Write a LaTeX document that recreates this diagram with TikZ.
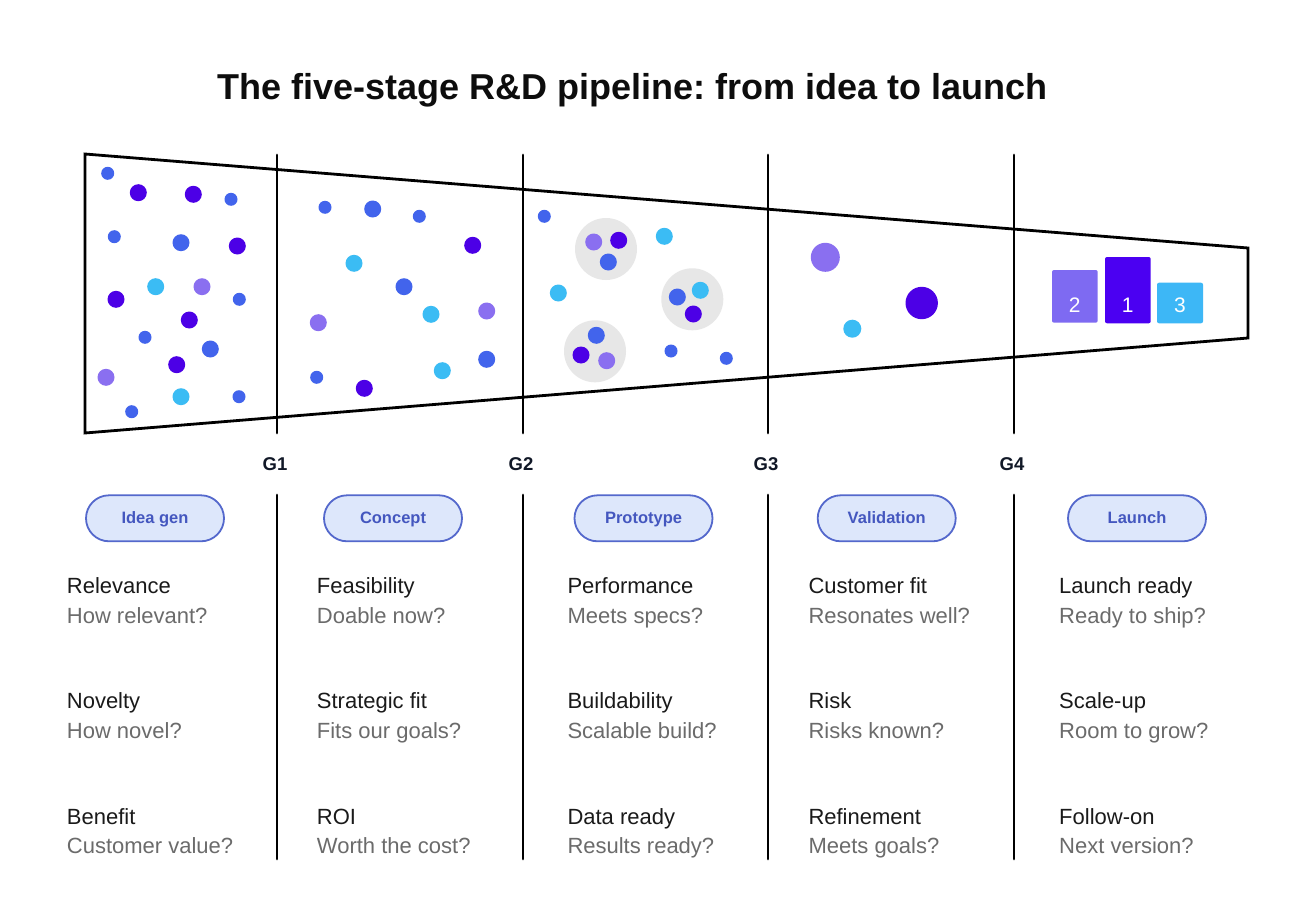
\documentclass[tikz,border=0pt]{standalone}
\usepackage{fontspec}
\setmainfont{Liberation Sans}
\usepackage{tikz}
\usetikzlibrary{positioning}
\frenchspacing
\definecolor{0d0d0d}{HTML}{0D0D0D}
\definecolor{111827}{HTML}{111827}
\definecolor{1a1a1a}{HTML}{1A1A1A}
\definecolor{6b6b6b}{HTML}{6B6B6B}
\definecolor{dde7fb}{HTML}{DDE7FB}
\definecolor{5468cc}{HTML}{5468CC}
\definecolor{4457bf}{HTML}{4457BF}
\definecolor{4264ec}{HTML}{4264EC}
\definecolor{4c00e6}{HTML}{4C00E6}
\definecolor{3bbcf4}{HTML}{3BBCF4}
\definecolor{8a6ff0}{HTML}{8A6FF0}
\definecolor{e7e7e7}{HTML}{E7E7E7}
\definecolor{7e6af2}{HTML}{7E6AF2}
\definecolor{4b00f2}{HTML}{4B00F2}
\definecolor{3db7f6}{HTML}{3DB7F6}

\begin{document}
\begin{tikzpicture}[line cap=round,line join=round,x=1pt,y=-1pt,
  gate/.style={line width=2.8pt,color=black},
  pill/.style={draw=5468cc,line width=1.8pt,fill=dde7fb,rounded corners=23pt,minimum width=138pt,minimum height=46pt,inner sep=0pt,text height=11.8pt,text depth=0.6pt,text=4457bf,font=\fontsize{16.5}{19}\selectfont\bfseries},
  head/.style={anchor=base west,inner sep=0pt,text=1a1a1a,font=\fontsize{22}{26}\selectfont},
  ask/.style={anchor=base west,inner sep=0pt,text=6b6b6b,font=\fontsize{22}{26}\selectfont},
  glabel/.style={anchor=base,inner sep=0pt,text=111827,font=\fontsize{18.5}{21}\selectfont\bfseries},
  rank/.style={anchor=base,inner sep=0pt,text=white,font=\fontsize{21}{24}\selectfont}]
\useasboundingbox (0,0) rectangle (1293,923);
\fill[color=white] (0,0) rectangle (1293,923);
\node (title) at (632.3,100) [anchor=base,inner sep=0pt,text=0d0d0d,font=\fontsize{36}{42}\selectfont\bfseries] {The five-stage R\&D pipeline: from idea to launch};
\draw [line width=2.8pt,line join=miter] (85,154)-- (1248,248)-- (1248,338)-- (85,433)-- cycle;
\draw [gate] (277,155)-- (277,433);
\draw [gate] (523,155)-- (523,433);
\draw [gate] (768,155)-- (768,433);
\draw [gate] (1014,155)-- (1014,433);
\draw [gate] (277,495)-- (277,859);
\draw [gate] (523,495)-- (523,859);
\draw [gate] (768,495)-- (768,859);
\draw [gate] (1014,495)-- (1014,859);
\node[glabel] (g1) at (275,470.7) {G1};
\node[glabel] (g2) at (521,470.7) {G2};
\node[glabel] (g3) at (766,470.7) {G3};
\node[glabel] (g4) at (1012,470.7) {G4};
% stage 1
\fill [color=4264ec] (107.7,173.3) circle (6.5pt);
\fill [color=4c00e6] (138.3,192.7) circle (8.5pt);
\fill [color=4c00e6] (193.3,194.3) circle (8.5pt);
\fill [color=4264ec] (231,199.3) circle (6.5pt);
\fill [color=4264ec] (114.3,236.7) circle (6.5pt);
\fill [color=4264ec] (181,242.7) circle (8.5pt);
\fill [color=4c00e6] (237.3,246) circle (8.5pt);
\fill [color=3bbcf4] (155.7,286.7) circle (8.5pt);
\fill [color=8a6ff0] (202,286.7) circle (8.5pt);
\fill [color=4c00e6] (116,299.3) circle (8.5pt);
\fill [color=4264ec] (239.3,299.3) circle (6.5pt);
\fill [color=4c00e6] (189.3,320) circle (8.5pt);
\fill [color=4264ec] (145,337.3) circle (6.5pt);
\fill [color=4264ec] (210.3,349) circle (8.5pt);
\fill [color=4c00e6] (176.7,364.7) circle (8.5pt);
\fill [color=8a6ff0] (106,377.3) circle (8.5pt);
\fill [color=3bbcf4] (181,396.7) circle (8.5pt);
\fill [color=4264ec] (239,396.7) circle (6.5pt);
\fill [color=4264ec] (131.7,411.7) circle (6.5pt);
% stage 2
\fill [color=4264ec] (325,207.3) circle (6.5pt);
\fill [color=4264ec] (372.7,209) circle (8.5pt);
\fill [color=4264ec] (419.3,216.3) circle (6.5pt);
\fill [color=4c00e6] (472.7,245.3) circle (8.5pt);
\fill [color=3bbcf4] (354,263.3) circle (8.5pt);
\fill [color=4264ec] (404,286.7) circle (8.5pt);
\fill [color=8a6ff0] (318.3,322.7) circle (8.5pt);
\fill [color=3bbcf4] (431,314.3) circle (8.5pt);
\fill [color=8a6ff0] (486.7,311) circle (8.5pt);
\fill [color=4264ec] (316.7,377.3) circle (6.5pt);
\fill [color=4c00e6] (364.3,388.3) circle (8.5pt);
\fill [color=3bbcf4] (442.3,370.7) circle (8.5pt);
\fill [color=4264ec] (486.7,359.3) circle (8.5pt);
% stage 3
\fill [color=e7e7e7] (606,249) circle (31pt);
\fill [color=e7e7e7] (692.3,299.3) circle (31pt);
\fill [color=e7e7e7] (595,351.3) circle (31pt);
\fill [color=4264ec] (544.3,216.3) circle (6.5pt);
\fill [color=8a6ff0] (593.7,242) circle (8.5pt);
\fill [color=4c00e6] (618.7,240.3) circle (8.5pt);
\fill [color=4264ec] (608.3,262) circle (8.5pt);
\fill [color=3bbcf4] (664.3,236.3) circle (8.5pt);
\fill [color=3bbcf4] (558.3,293) circle (8.5pt);
\fill [color=4264ec] (677.3,297) circle (8.5pt);
\fill [color=3bbcf4] (700.3,290.3) circle (8.5pt);
\fill [color=4c00e6] (693.3,314) circle (8.5pt);
\fill [color=4264ec] (596.3,335.3) circle (8.5pt);
\fill [color=4c00e6] (581,355) circle (8.5pt);
\fill [color=8a6ff0] (606.7,360.7) circle (8.5pt);
\fill [color=4264ec] (671,351) circle (6.5pt);
\fill [color=4264ec] (726.3,358.3) circle (6.5pt);
% stage 4
\fill [color=8a6ff0] (825.3,257.3) circle (14.5pt);
\fill [color=3bbcf4] (852.3,328.7) circle (9pt);
\fill [color=4c00e6] (921.7,303) circle (16.2pt);
% stage 5
\fill [color=7e6af2,rounded corners=2pt] (1052,270) rectangle (1097.7,322.7);
\fill [color=4b00f2,rounded corners=2pt] (1105,257) rectangle (1150.7,323.3);
\fill [color=3db7f6,rounded corners=2pt] (1157,282.7) rectangle (1203,323.3);
\node[rank] (second) at (1074.8,312.3) {2};
\node[rank] (first) at (1127.8,312.3) {1};
\node[rank] (third) at (1180,312.3) {3};
% stage names
\node[pill] (ideagen) at (155,518.3) {Idea gen};
\node[pill] (concept) at (393,518.3) {Concept};
\node[pill] (prototype) at (643.5,518.3) {Prototype};
\node[pill] (validation) at (886.7,518.3) {Validation};
\node[pill] (launch) at (1137,518.3) {Launch};
% criteria
\node[head] (relevance) at (66.7,593) {Relevance};
\node[ask] (relevanceq) at (66.7,623) {How relevant?};
\node[head] (novelty) at (66.7,708) {Novelty};
\node[ask] (noveltyq) at (66.7,738) {How novel?};
\node[head] (benefit) at (66.7,824) {Benefit};
\node[ask] (benefitq) at (66.7,853) {Customer value?};
\node[head] (feasibility) at (316.7,593) {Feasibility};
\node[ask] (feasibilityq) at (316.7,623) {Doable now?};
\node[head] (strategic) at (316.7,708) {Strategic fit};
\node[ask] (strategicq) at (316.7,738) {Fits our goals?};
\node[head] (roi) at (316.7,824) {ROI};
\node[ask] (roiq) at (316.7,853) {Worth the cost?};
\node[head] (performance) at (567.3,593) {Performance};
\node[ask] (performanceq) at (567.3,623) {Meets specs?};
\node[head] (buildability) at (567.3,708) {Buildability};
\node[ask] (buildabilityq) at (567.3,738) {Scalable build?};
\node[head] (dataready) at (567.3,824) {Data ready};
\node[ask] (datareadyq) at (567.3,853) {Results ready?};
\node[head] (customerfit) at (808.3,593) {Customer fit};
\node[ask] (customerfitq) at (808.3,623) {Resonates well?};
\node[head] (risk) at (808.3,708) {Risk};
\node[ask] (riskq) at (808.3,738) {Risks known?};
\node[head] (refinement) at (808.3,824) {Refinement};
\node[ask] (refinementq) at (808.3,853) {Meets goals?};
\node[head] (launchready) at (1059,593) {Launch ready};
\node[ask] (launchreadyq) at (1059,623) {Ready to ship?};
\node[head] (scaleup) at (1059,708) {Scale-up};
\node[ask] (scaleupq) at (1059,738) {Room to grow?};
\node[head] (followon) at (1059,824) {Follow-on};
\node[ask] (followonq) at (1059,853) {Next version?};
\end{tikzpicture}
\end{document}
